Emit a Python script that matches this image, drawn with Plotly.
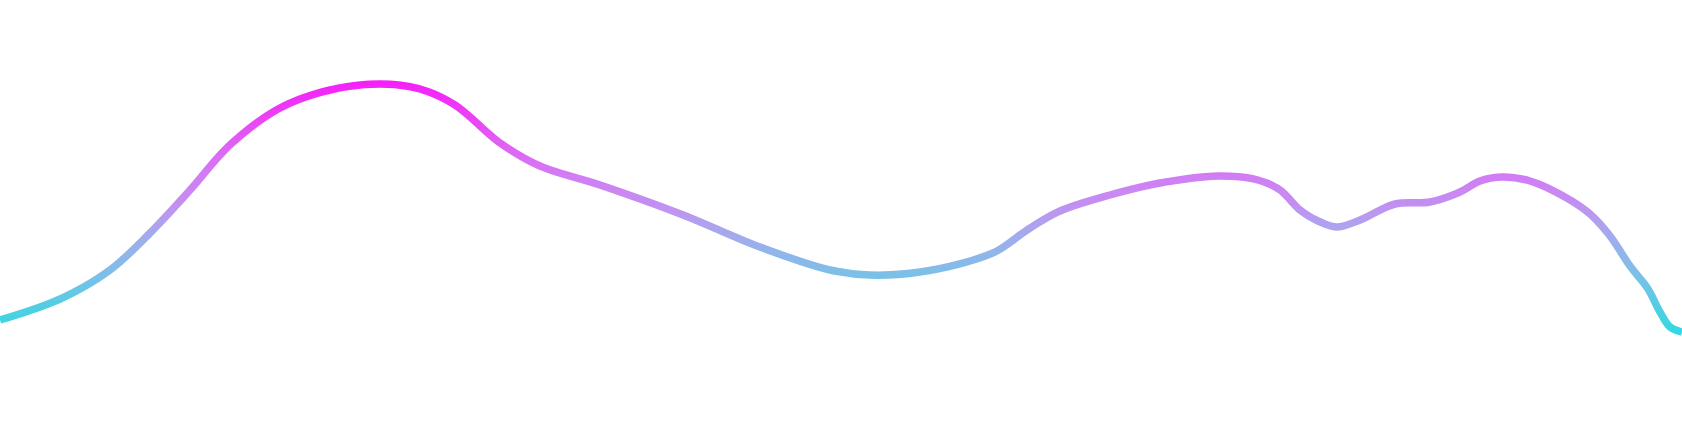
import plotly.graph_objects as go

# ---- data (arbitrary units: x 0-100 across, y 0-100 height) ----
x_vals = [0.0, 3.57, 6.54, 8.92, 11.30, 13.67, 16.65, 19.62, 22.59, 24.97, 27.05,
          29.73, 32.10, 35.67, 40.61, 45.18, 49.35, 51.72, 54.70, 57.67, 59.27,
          61.24, 63.02, 65.99, 68.97, 72.53, 74.79, 76.10, 77.29, 78.36, 79.49,
          80.86, 82.94, 85.02, 86.80, 87.99, 89.30, 90.96, 93.04, 94.53, 95.72,
          96.91, 97.98, 98.69, 99.29, 100.0]
y_vals = [28.09, 32.81, 39.33, 47.64, 57.30, 67.42, 75.73, 79.78, 81.12, 80.00, 76.40,
          67.87, 62.70, 58.43, 51.69, 44.49, 39.33, 38.20, 38.88, 41.35, 43.60,
          48.76, 52.58, 56.18, 58.88, 60.45, 59.55, 57.30, 52.81, 50.34, 48.99,
          50.56, 54.16, 54.61, 56.85, 59.33, 60.22, 59.33, 55.73, 51.91, 46.97,
          40.22, 35.06, 29.89, 26.52, 25.39]

# vertical gradient colour stops (by height, in the same y units)
grad_pos = [25.0, 28.1, 32.6, 38.2, 42.7, 48.3, 53.9, 59.6, 66.3, 73.0, 81.5]
grad_col = ["#33d8e3", "#42d4e1", "#5bcbe4", "#7cc0e8", "#8fb6ea", "#a9a7ee",
            "#c290f1", "#d07ff4", "#de66f5", "#ea44f7", "#f520f8"]

W, H = 1682, 445
N_BANDS = 89  # horizontal colour bands, 5 px each


def hex2rgb(h):
    h = h.lstrip("#")
    return tuple(int(h[i:i + 2], 16) for i in (0, 2, 4))


def color_at(v):
    if v <= grad_pos[0]:
        return grad_col[0]
    if v >= grad_pos[-1]:
        return grad_col[-1]
    for i in range(len(grad_pos) - 1):
        a, b = grad_pos[i], grad_pos[i + 1]
        if a <= v <= b:
            t = (v - a) / (b - a)
            c0, c1 = hex2rgb(grad_col[i]), hex2rgb(grad_col[i + 1])
            c = [round(c0[j] + (c1[j] - c0[j]) * t) for j in range(3)]
            return "rgb(%d,%d,%d)" % tuple(c)
    return grad_col[-1]


fig = go.Figure()
layout = dict(
    width=W, height=H,
    margin=dict(l=0, r=0, t=0, b=0),
    paper_bgcolor="white", plot_bgcolor="rgba(0,0,0,0)",
    showlegend=False,
    xaxis=dict(range=[0, 100], visible=False, fixedrange=True),
)

band_h = 100.0 / N_BANDS
for k in range(N_BANDS):
    lo, hi = k * band_h, (k + 1) * band_h
    idx = k + 1
    name = "y" if idx == 1 else "y%d" % idx
    axkey = "yaxis" if idx == 1 else "yaxis%d" % idx
    layout[axkey] = dict(domain=[k / N_BANDS, (k + 1) / N_BANDS], range=[lo, hi],
                         visible=False, fixedrange=True)
    fig.add_trace(go.Scatter(
        x=x_vals, y=y_vals, xaxis="x", yaxis=name, mode="lines",
        line=dict(color=color_at((lo + hi) / 2), width=7.5, shape="spline",
                  smoothing=1.0, simplify=False),
        hoverinfo="skip",
    ))

fig.update_layout(**layout)
fig.write_html(
    "out.html",
    config={"displayModeBar": False},
    post_script="document.body.style.margin='0';"
                "document.documentElement.style.overflow='hidden';",
)
